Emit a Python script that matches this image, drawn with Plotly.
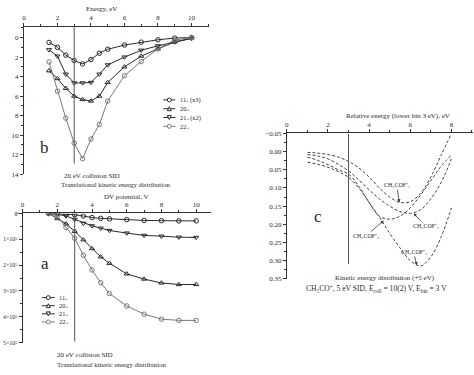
import plotly.graph_objects as go

W, H = 474, 375
FONT = "Liberation Serif"

# ---------------- data ----------------
energy = [1.5, 2, 2.5, 3, 3.5, 4, 4.5, 5, 6, 7, 8, 9, 10]
# panel b (energy distribution)
b_11 = [0.5, 1.0, 1.8, 2.35, 2.7, 2.25, 1.6, 1.2, 0.77, 0.47, 0.23, 0.05, 0.0]
b_20 = [3.4, 4.2, 5.2, 6.0, 6.35, 6.5, 6.0, 4.6, 3.0, 1.9, 1.15, 0.45, 0.05]
b_21 = [1.25, 1.9, 3.75, 4.65, 4.65, 4.6, 3.75, 2.8, 2.0, 1.3, 0.85, 0.45, 0.1]
b_22 = [2.5, 5.5, 8.25, 10.8, 12.4, 10.4, 8.9, 6.5, 3.9, 2.45, 1.15, 0.25, 0.0]
b_names = ["11\u208a (x3)", "20\u208a", "21\u208a (x2)", "22\u208a"]

# panel a (cumulative vs DV potential)
a_11 = [0, 1e3, 3e3, 5e3, 1.0e4, 1.6e4, 1.9e4, 2.1e4, 2.4e4, 2.7e4, 2.8e4, 2.9e4, 2.9e4]
a_20 = [0, 2.0e4, 4.0e4, 6.9e4, 1.02e5, 1.36e5, 1.68e5, 1.93e5, 2.34e5, 2.54e5, 2.69e5, 2.75e5, 2.75e5]
a_21 = [0, 3e3, 1.0e4, 2.3e4, 3.8e4, 4.8e4, 5.7e4, 6.6e4, 7.6e4, 8.5e4, 8.8e4, 9.2e4, 9.3e4]
a_22 = [0, 1.0e4, 5.4e4, 9.6e4, 1.62e5, 2.19e5, 2.68e5, 3.1e5, 3.58e5, 3.9e5, 4.09e5, 4.14e5, 4.14e5]
a_names = ["11\u208a", "20\u208a", "21\u208a", "22\u208a"]
a_ticks = [0, 1e5, 2e5, 3e5, 4e5, 5e5]
a_ticklabels = ["0", "1\u00d710\u2075", "2\u00d710\u2075", "3\u00d710\u2075", "4\u00d710\u2075", "5\u00d710\u2075"]

# panel c (relative energy)
rel_e = [1, 1.5, 2, 2.5, 3, 3.5, 4, 4.5, 5, 5.5, 6, 6.5, 7, 7.5, 8]
c_1 = [0.002, 0.004, 0.008, 0.015, 0.027, 0.045, 0.07, 0.10, 0.125, 0.14, 0.138, 0.115, 0.07, 0.01, -0.05]
c_2 = [0.008, 0.012, 0.02, 0.035, 0.053, 0.078, 0.105, 0.13, 0.15, 0.165, 0.17, 0.16, 0.13, 0.085, 0.02]
c_3 = [0.015, 0.024, 0.036, 0.05, 0.062, 0.095, 0.14, 0.178, 0.186, 0.178, 0.155, 0.12, 0.08, 0.04, 0.01]
c_4 = [0.029, 0.035, 0.043, 0.055, 0.071, 0.10, 0.14, 0.18, 0.225, 0.265, 0.30, 0.315, 0.29, 0.235, 0.155]
c_labels = ["CH\u2083COF\u207a\u2081", "CH\u2083COF\u207a\u2082", "CH\u2083COF\u207a\u2083", "CH\u2083COF\u207a\u2084"]

# ---------------- helpers ----------------
def px_x(p):
    return p / W

def px_y(p):
    return 1 - p / H

DARK = "#2a2a2a"
GRAY = "#7a7a7a"
TXT = "#2a2a2a"
styles = [
    dict(symbol="circle-open", color=DARK),
    dict(symbol="triangle-up-open", color=DARK),
    dict(symbol="triangle-down-open", color=DARK),
    dict(symbol="circle-open", color=GRAY),
]

fig = go.Figure()

# panel b traces
for ys, nm, st in zip([b_11, b_20, b_21, b_22], b_names, styles):
    fig.add_trace(go.Scatter(
        x=energy, y=ys, name=nm, mode="lines+markers", showlegend=False,
        line=dict(color=st["color"], width=1),
        marker=dict(symbol=st["symbol"], size=4.5, color=st["color"], line=dict(width=1)),
        xaxis="x", yaxis="y"))

# panel a traces
for ys, nm, st in zip([a_11, a_20, a_21, a_22], a_names, styles):
    fig.add_trace(go.Scatter(
        x=energy, y=ys, name=nm, mode="lines+markers", showlegend=False,
        line=dict(color=st["color"], width=1),
        marker=dict(symbol=st["symbol"], size=4.5, color=st["color"], line=dict(width=1)),
        xaxis="x2", yaxis="y2"))

# panel c traces
for ys, nm in zip([c_1, c_2, c_3, c_4], c_labels):
    fig.add_trace(go.Scatter(
        x=rel_e, y=ys, name=nm, mode="lines", showlegend=False,
        line=dict(color="#444444", width=1, dash="3px,2px", shape="spline", smoothing=1.0),
        xaxis="x3", yaxis="y3"))

axis_common = dict(
    showline=True, linecolor="#333", linewidth=1, showgrid=False, zeroline=False,
    ticks="outside", ticklen=3, tickwidth=1, tickcolor="#333",
    tickfont=dict(family=FONT, size=7, color=TXT),
    minor=dict(ticks="outside", ticklen=2, tickcolor="#333"),
)

layout = dict(
    width=W, height=H, margin=dict(l=0, r=0, t=0, b=0),
    paper_bgcolor="white", plot_bgcolor="white", showlegend=False,
    # panel b
    xaxis=dict(axis_common, domain=[px_x(22), px_x(208)], range=[0, 11.05], side="top",
               anchor="y", tickvals=[0, 2, 4, 6, 8, 10], minor=dict(axis_common["minor"], dtick=1, tick0=0)),
    yaxis=dict(axis_common, domain=[px_y(174), px_y(23.3)], range=[14, -1.1], anchor="x",
               tickvals=[0, 2, 4, 6, 8, 10, 12, 14], minor=dict(axis_common["minor"], dtick=1, tick0=0)),
    # panel a
    xaxis2=dict(axis_common, domain=[px_x(20.7), px_x(210)], range=[0, 10.86], side="top",
                anchor="y2", tickvals=[0, 2, 4, 6, 8, 10], minor=dict(axis_common["minor"], dtick=1, tick0=0)),
    yaxis2=dict(axis_common, domain=[px_y(346), px_y(214)], range=[5e5, 0], anchor="x2",
                tickvals=a_ticks, ticktext=a_ticklabels,
                tickfont=dict(family=FONT, size=6, color=TXT),
                minor=dict(axis_common["minor"], dtick=5e4, tick0=0)),
    # panel c
    xaxis3=dict(axis_common, domain=[px_x(286), px_x(473)], range=[0, 9.05], side="top",
                anchor="y3", tickvals=[0, 2, 4, 6, 8], minor=dict(axis_common["minor"], dtick=1, tick0=0)),
    yaxis3=dict(axis_common, domain=[px_y(280.7), px_y(132.3)], range=[0.35, -0.05], anchor="x3",
                tickvals=[-0.05, 0, 0.05, 0.1, 0.15, 0.2, 0.25, 0.3, 0.35], tickformat=".2f",
                minor=dict(axis_common["minor"], dtick=0.025, tick0=0)),
)
fig.update_layout(**layout)

# short extension of panel a's top axis to the left of its y axis
fig.add_shape(type="line", xref="paper", yref="y2", x0=px_x(13.5), x1=px_x(20.7), y0=0, y1=0,
              line=dict(color="#333", width=1))

# vertical marker lines at 3 V
fig.add_shape(type="line", xref="x", yref="y", x0=3, x1=3, y0=-1.1, y1=12.9, line=dict(color="#555", width=1))
fig.add_shape(type="line", xref="x2", yref="y2", x0=3, x1=3, y0=0, y1=4.96e5, line=dict(color="#555", width=1))
fig.add_shape(type="line", xref="x3", yref="y3", x0=3, x1=3, y0=-0.05, y1=0.31, line=dict(color="#555", width=1))

def txt(x, y, s, size=7, anchor="left"):
    fig.add_annotation(x=px_x(x), y=px_y(y), xref="paper", yref="paper", text=s, showarrow=False,
                       xanchor=anchor, yanchor="middle", font=dict(family=FONT, size=size, color=TXT))

# manual legends (compact, as in the reference)
def legend_item(x0, x1, y, st, label, size=6.5):
    fig.add_shape(type="line", xref="paper", yref="paper", x0=px_x(x0), x1=px_x(x1), y0=px_y(y), y1=px_y(y),
                  line=dict(color=st["color"], width=1))
    cx, r = (x0 + x1) / 2, 2.0
    if st["symbol"] == "circle-open":
        fig.add_shape(type="circle", xref="paper", yref="paper", x0=px_x(cx - r), x1=px_x(cx + r),
                      y0=px_y(y + r), y1=px_y(y - r), line=dict(color=st["color"], width=1), fillcolor="white")
    else:
        up = st["symbol"] == "triangle-up-open"
        tip = y - r if up else y + r
        base = y + r if up else y - r
        path = "M {} {} L {} {} L {} {} Z".format(px_x(cx), px_y(tip), px_x(cx - r), px_y(base), px_x(cx + r), px_y(base))
        fig.add_shape(type="path", xref="paper", yref="paper", path=path,
                      line=dict(color=st["color"], width=1), fillcolor="white")
    txt(x1 + 2.5, y, label, size=size)

for i, (nm, st) in enumerate(zip(b_names, styles)):
    legend_item(162, 174, 98 + 9 * i, st, nm)
for i, (nm, st) in enumerate(zip(a_names, styles)):
    legend_item(40, 53, 300 + 8.3 * i, st, nm)

# axis titles (top)
txt(100, 5, "Energy, eV", anchor="center")
txt(125, 197, "DV potential, V", anchor="center")
txt(398, 114, "Relative energy (lower bin 3 eV), eV", anchor="center")

# bottom captions
txt(60, 176, "20 eV collision SID")
txt(57, 184, "Translational kinetic energy distribution", size=6.8)
txt(53, 359, "20 eV collision SID")
txt(53, 368, "Translational kinetic energy distribution", size=6.8)
txt(385, 280, "Kinetic energy distribution (+5 eV)", anchor="center")
txt(376, 291, "CH\u2083CO\u207a, 5 eV SID, E<sub>coll</sub> = 10(2) V, E<sub>bin</sub> = 3 V", size=7.6, anchor="center")

# panel letters
txt(43, 147, "b", size=17, anchor="center")
txt(43, 265, "a", size=17, anchor="center")
txt(317, 217, "c", size=17, anchor="center")

# curve labels with arrows (panel c)
c_label_pos = [(5.34, 0.092), (6.75, 0.205), (3.85, 0.232), (6.16, 0.276)]
c_arrow_to = [(5.47, 0.140), (6.16, 0.170), (4.71, 0.190), (6.32, 0.313)]
for lab, (tx, ty), (hx, hy) in zip(c_labels, c_label_pos, c_arrow_to):
    fig.add_annotation(x=hx, y=hy, xref="x3", yref="y3", ax=tx, ay=ty, axref="x3", ayref="y3",
                       text=lab, showarrow=True, arrowhead=2, arrowsize=0.8, arrowwidth=0.8,
                       arrowcolor="#333", standoff=0, font=dict(family=FONT, size=6, color=TXT))

fig.write_html("out.html")
